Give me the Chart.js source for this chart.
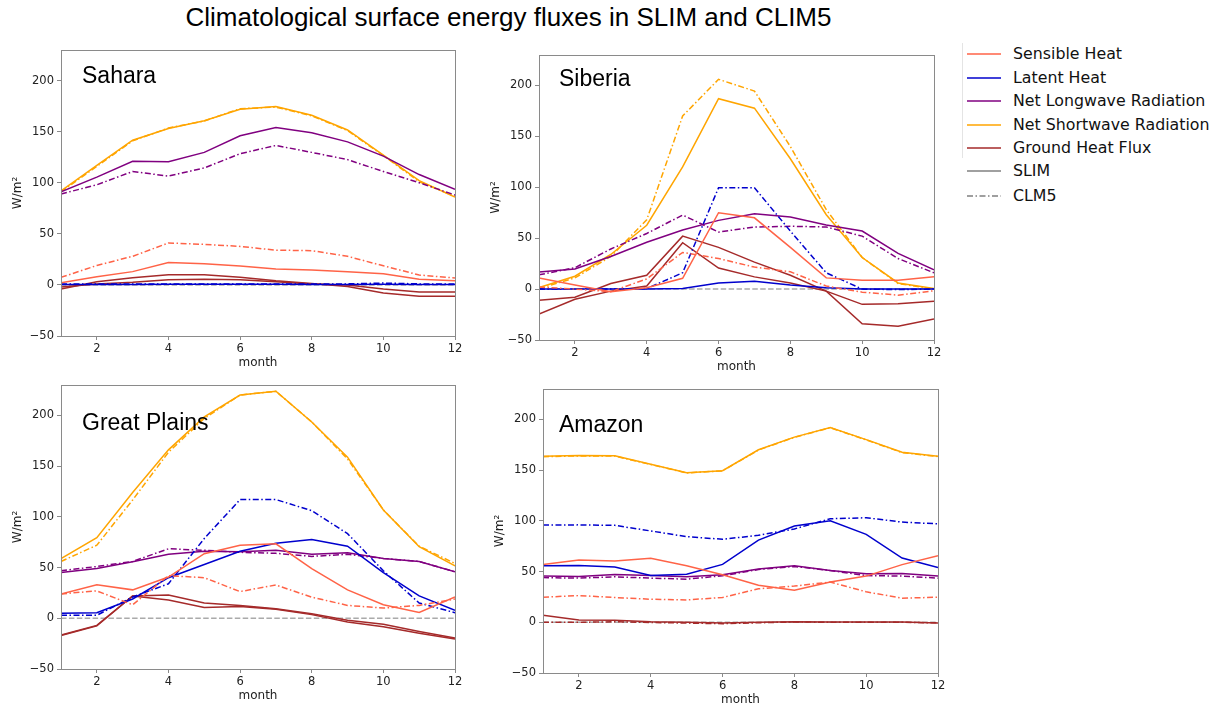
<!DOCTYPE html>
<html>
<head>
<meta charset="utf-8">
<script src="https://cdn.jsdelivr.net/npm/chart.js@4.4.1/dist/chart.umd.min.js"></script>
<style>
  body { margin: 0; background: #fff; width: 1220px; height: 709px; position: relative; overflow: hidden; }
  canvas { position: absolute; }
  #title { position: absolute; left: 0; width: 1017px; top: 2px; text-align: center; font: 26px "Liberation Sans", Arial, sans-serif; color: #000; }
  #legend { position: absolute; left: 962px; top: 43px; width: 1px; height: 115px; background: #e4e4e4; }
  .lg { position: absolute; left: 1013px; font: 15.8px "DejaVu Sans", sans-serif; color: #111; line-height: 20px; white-space: nowrap; }
  .lgs { position: absolute; left: 967px; width: 36px; height: 6px; }
</style>
</head>
<body>
<div id="title">Climatological surface energy fluxes in SLIM and CLIM5</div>
<div id="legend"></div>
<canvas id="c0"></canvas>
<canvas id="c1"></canvas>
<canvas id="c2"></canvas>
<canvas id="c3"></canvas>
<script>
const months = [1, 2, 3, 4, 5, 6, 7, 8, 9, 10, 11, 12];
const monthTicks = [2, 4, 6, 8, 10, 12];
const fluxTicks = [-50, 0, 50, 100, 150, 200];
const regions = ['Sahara', 'Siberia', 'Great Plains', 'Amazon'];
const varNames = ['Sensible Heat', 'Latent Heat', 'Net Longwave Radiation', 'Net Shortwave Radiation', 'Ground Heat Flux'];
const varColors = ['#ff6347', '#0000cd', '#800080', '#ffa500', '#a52a2a'];
const modelNames = ['SLIM', 'CLM5'];

// Sahara
const sahara_SH_slim = [2, 8, 13, 22, 20.6, 18.4, 15.5, 14.5, 13, 11, 5.5, 4];
const sahara_SH_clm5 = [7.4, 19, 28, 41, 39.7, 37.7, 34, 33.5, 28, 18.7, 9.7, 6.8];
const sahara_LH_slim = [0.3, 0.4, 0.5, 0.6, 0.6, 0.6, 0.6, 0.5, 0.5, 0.6, 0.4, 0.3];
const sahara_LH_clm5 = [1, 1, 1, 1, 1, 1, 1, 1, 1, 1.8, 1, 0.8];
const sahara_LW_slim = [91, 105.5, 121, 120.6, 129.7, 146, 154, 149, 140, 126, 108, 93.5];
const sahara_LW_clm5 = [89, 98, 111, 106.5, 114.5, 128.4, 136.5, 129.7, 122.6, 111, 100, 88];
const sahara_SW_slim = [92, 117, 141.6, 153, 160.6, 172, 174.5, 166, 151.6, 127, 102, 86];
const sahara_SW_clm5 = [91, 116, 141, 153.5, 160.5, 172.5, 174, 165.5, 151, 126.5, 101, 86.5];
const sahara_G_slim = [-4, 3, 7, 10, 10, 7.5, 4, 1.5, -1.5, -8, -11, -11];
const sahara_G_clm5 = [-2, 1, 2.5, 5, 5.5, 5, 3, 1, 0, -4, -7, -7];

// Siberia
const siberia_SH_slim = [11, 4, -2.5, 1.3, 10.6, 75, 70, 41, 11, 8.7, 8.7, 12];
const siberia_SH_clm5 = [2, 0, -2.5, 10, 36, 30, 21.6, 17, 3, -3, -6, -1.6];
const siberia_LH_slim = [0, 0, 0, 0, 0.5, 6, 7.8, 4, 1.3, 0, 0, 0];
const siberia_LH_clm5 = [0, 0, 0, 0.5, 16, 99.5, 99.5, 57, 16, 0, -0.5, 0];
const siberia_LW_slim = [16.8, 19.7, 32, 46, 58, 67.5, 74, 70.8, 63, 57, 35, 19];
const siberia_LW_clm5 = [14, 21, 39.4, 54.6, 72.7, 56, 61, 61.7, 61, 52, 30, 16];
const siberia_SW_slim = [1.6, 12.6, 34, 62.7, 120, 187, 177.7, 128, 73, 31, 6, 0.6];
const siberia_SW_clm5 = [0.5, 11, 32, 68, 170, 206, 194.5, 140, 78, 31, 5.5, 0];
const siberia_G_slim = [-11, -8, 5.5, 13.6, 52, 41, 26.5, 13.6, -2, -15, -14.5, -12];
const siberia_G_clm5 = [-24.5, -10, -2, 3, 45.5, 20.7, 12, 6, -2, -34, -36.5, -29.4];

// Great Plains
const plains_SH_slim = [24, 33, 28, 40.6, 63.6, 72, 73.4, 49, 28, 13.3, 5.8, 21];
const plains_SH_clm5 = [24, 27, 13.3, 42, 40, 26.3, 32.8, 20.8, 12.7, 10, 12.7, 19];
const plains_LH_slim = [5, 5.5, 19, 40, 53, 66, 74, 77.6, 71, 45, 22, 7.8];
const plains_LH_clm5 = [3, 3, 21, 34, 78.6, 117, 117, 106, 83.4, 46.8, 15, 5.5];
const plains_LW_slim = [45, 49, 55.8, 63, 66, 65.6, 67, 63, 64.6, 59, 56, 45.8];
const plains_LW_clm5 = [46.8, 51, 56, 68.5, 67, 65, 64, 61, 63, 59, 56, 45.8];
const plains_SW_slim = [58.8, 79.5, 124, 166, 198.4, 220, 223.7, 193.5, 158.8, 106.8, 70.5, 51.6];
const plains_SW_clm5 = [56, 72, 116.6, 163.6, 197, 220, 223.7, 193.5, 157, 106.8, 71, 54];
const plains_G_slim = [-16.5, -7, 22, 23, 15, 12.7, 9.4, 4.5, -2, -6, -13, -19.5];
const plains_G_clm5 = [-17, -7.5, 22, 18, 10.7, 11.7, 9, 3.6, -3.6, -8.4, -14.7, -20.5];

// Amazon
const amazon_SH_slim = [57, 61.4, 60.4, 63, 55.8, 46.8, 36.4, 31.5, 39.6, 45.5, 56.8, 65.6];
const amazon_SH_clm5 = [24.7, 26.3, 24.4, 22.7, 22, 24.4, 33, 35.7, 39.6, 30, 23.7, 24.7];
const amazon_LH_slim = [55.8, 56, 54.5, 46, 47.4, 57, 81, 94.8, 100, 86.7, 63.3, 54];
const amazon_LH_clm5 = [95.8, 96, 95.5, 90, 84.4, 81.8, 85.7, 92, 102, 103, 98.7, 97];
const amazon_LW_slim = [45.5, 45, 47, 46, 44.8, 46.8, 52.6, 55.8, 51, 47.7, 48, 45.5];
const amazon_LW_clm5 = [44, 43.5, 44.8, 43.5, 42.5, 45.8, 52, 55, 51, 46, 45.5, 43.5];
const amazon_SW_slim = [163.6, 164.3, 164, 155.8, 147.4, 149.4, 170, 182.5, 191.9, 180, 167.5, 163.6];
const amazon_SW_clm5 = [163.2, 164, 163.8, 155.5, 147.2, 149.2, 169.8, 182.3, 191.7, 179.8, 167.2, 163.3];
const amazon_G_slim = [6.8, 2.3, 2, 0.6, 0, -0.6, 0, 0.6, 0.3, 0.3, 0.3, -0.6];
const amazon_G_clm5 = [0, 0, 0.5, -0.2, -0.8, -1.4, -0.5, 0.3, 0, 0, 0, -0.6];

const slimData = [
  [sahara_SH_slim, sahara_LH_slim, sahara_LW_slim, sahara_SW_slim, sahara_G_slim],
  [siberia_SH_slim, siberia_LH_slim, siberia_LW_slim, siberia_SW_slim, siberia_G_slim],
  [plains_SH_slim, plains_LH_slim, plains_LW_slim, plains_SW_slim, plains_G_slim],
  [amazon_SH_slim, amazon_LH_slim, amazon_LW_slim, amazon_SW_slim, amazon_G_slim]
];
const clm5Data = [
  [sahara_SH_clm5, sahara_LH_clm5, sahara_LW_clm5, sahara_SW_clm5, sahara_G_clm5],
  [siberia_SH_clm5, siberia_LH_clm5, siberia_LW_clm5, siberia_SW_clm5, siberia_G_clm5],
  [plains_SH_clm5, plains_LH_clm5, plains_LW_clm5, plains_SW_clm5, plains_G_clm5],
  [amazon_SH_clm5, amazon_LH_clm5, amazon_LW_clm5, amazon_SW_clm5, amazon_G_clm5]
];

// plot area of each panel in page pixels: left, top, width, height, label offset
const panels = [
  { l: 61, t: 47, w: 394, h: 289, lx: 21, ly: 27 },
  { l: 539, t: 52, w: 395, h: 288, lx: 20, ly: 25 },
  { l: 61, t: 382, w: 394, h: 287, lx: 21, ly: 39 },
  { l: 543, t: 386, w: 395, h: 287, lx: 16, ly: 37 }
];
const DASHDOT = [6, 2.5, 1.5, 2.5];
const TICK_FONT = { family: 'DejaVu Sans', size: 11.5 };
const frameColor = '#8a8a8a';

const panelPlugin = {
  id: 'panelDeco',
  beforeDatasetsDraw(chart) {
    const { ctx, chartArea: a, scales } = chart;
    const y0 = scales.y.getPixelForValue(0);
    ctx.save();
    ctx.strokeStyle = '#aaaaaa'; ctx.lineWidth = 1.5; ctx.setLineDash([5.5, 2.4]);
    ctx.beginPath(); ctx.moveTo(a.left, y0); ctx.lineTo(a.right, y0); ctx.stroke();
    ctx.restore();
  },
  afterDatasetsDraw(chart) {
    const { ctx, chartArea: a } = chart;
    const p = chart.options.plugins.panelDeco;
    ctx.save();
    ctx.strokeStyle = frameColor; ctx.lineWidth = 1;
    ctx.strokeRect(Math.round(a.left) + 0.5, Math.round(a.top) + 0.5, Math.round(a.right - a.left), Math.round(a.bottom - a.top));
    ctx.fillStyle = '#000';
    ctx.font = '23px "Liberation Sans", Arial, sans-serif';
    ctx.textBaseline = 'middle';
    ctx.fillText(p.name, a.left + p.lx, a.top + p.ly);
    ctx.restore();
  }
};

regions.forEach((name, r) => {
  const p = panels[r];
  const cv = document.getElementById('c' + r);
  cv.width = p.w + 61 + 15; cv.height = p.h + 7 + 44;
  cv.style.left = (p.l - 61) + 'px'; cv.style.top = (p.t - 7) + 'px';

  const datasets = [];
  varNames.forEach((v, i) => {
    // Ground heat flux CLM5 only shows a visible dash-dot pattern in the Amazon panel
    const clmDash = (i === 4 && r !== 3) ? [] : DASHDOT;
    datasets.push({ label: v + ' SLIM', data: months.map((m, k) => ({ x: m, y: slimData[r][i][k] })),
      borderColor: varColors[i], borderWidth: 1.5, pointRadius: 0, fill: false, tension: 0 });
    datasets.push({ label: v + ' CLM5', data: months.map((m, k) => ({ x: m, y: clm5Data[r][i][k] })),
      borderColor: varColors[i], borderWidth: 1.5, pointRadius: 0, fill: false, tension: 0, borderDash: clmDash });
  });

  new Chart(cv, {
    type: 'line',
    data: { datasets },
    plugins: [panelPlugin],
    options: {
      responsive: false,
      animation: false,
      layout: { padding: { left: 0, right: 15, top: 7, bottom: 0 } },
      plugins: { legend: { display: false }, tooltip: { enabled: false }, panelDeco: { name, lx: p.lx, ly: p.ly } },
      scales: {
        x: {
          type: 'linear', min: 1, max: 12,
          afterBuildTicks: s => { s.ticks = monthTicks.map(v => ({ value: v })); },
          afterFit: s => { s.height = 44; },
          grid: { drawOnChartArea: false, drawTicks: true, tickLength: 4, color: frameColor },
          border: { display: false },
          ticks: { font: TICK_FONT, color: '#222', padding: 2, maxRotation: 0 },
          title: { display: true, text: 'month', font: { family: 'DejaVu Sans', size: 12 }, color: '#222', padding: { top: 0, bottom: 9.8 } }
        },
        y: {
          type: 'linear', min: -50, max: 230,
          afterBuildTicks: s => { s.ticks = fluxTicks.map(v => ({ value: v })); },
          afterFit: s => { s.width = 61; },
          grid: { drawOnChartArea: false, drawTicks: true, tickLength: 4, color: frameColor },
          border: { display: false },
          ticks: { font: TICK_FONT, color: '#222', padding: 3, callback: v => (v < 0 ? '\u2212' + Math.abs(v) : '' + v) },
          title: { display: true, text: 'W/m\u00b2', font: { family: 'DejaVu Sans', size: 12 }, color: '#222', padding: { top: 10.8, bottom: 0 } }
        }
      }
    }
  });
});

// legend
const legendRows = [54, 77.7, 101, 125, 148.3, 171, 195.7];
const legendItems = varNames.map((v, i) => ({ text: v, color: varColors[i], dash: '' }))
  .concat([{ text: modelNames[0], color: '#808080', dash: '' }, { text: modelNames[1], color: '#808080', dash: DASHDOT.join(' ') }]);
legendItems.forEach((it, i) => {
  const y = legendRows[i];
  const s = document.createElementNS('http://www.w3.org/2000/svg', 'svg');
  s.setAttribute('class', 'lgs'); s.setAttribute('width', 36); s.setAttribute('height', 6);
  s.style.top = (y - 3) + 'px';
  const ln = document.createElementNS('http://www.w3.org/2000/svg', 'line');
  ln.setAttribute('x1', 0); ln.setAttribute('x2', 34); ln.setAttribute('y1', 3); ln.setAttribute('y2', 3);
  ln.setAttribute('stroke', it.color); ln.setAttribute('stroke-width', 1.6);
  if (it.dash) ln.setAttribute('stroke-dasharray', it.dash);
  s.appendChild(ln);
  document.body.appendChild(s);
  const d = document.createElement('div');
  d.className = 'lg'; d.textContent = it.text; d.style.top = (y - 10) + 'px';
  document.body.appendChild(d);
});
</script>
</body>
</html>
